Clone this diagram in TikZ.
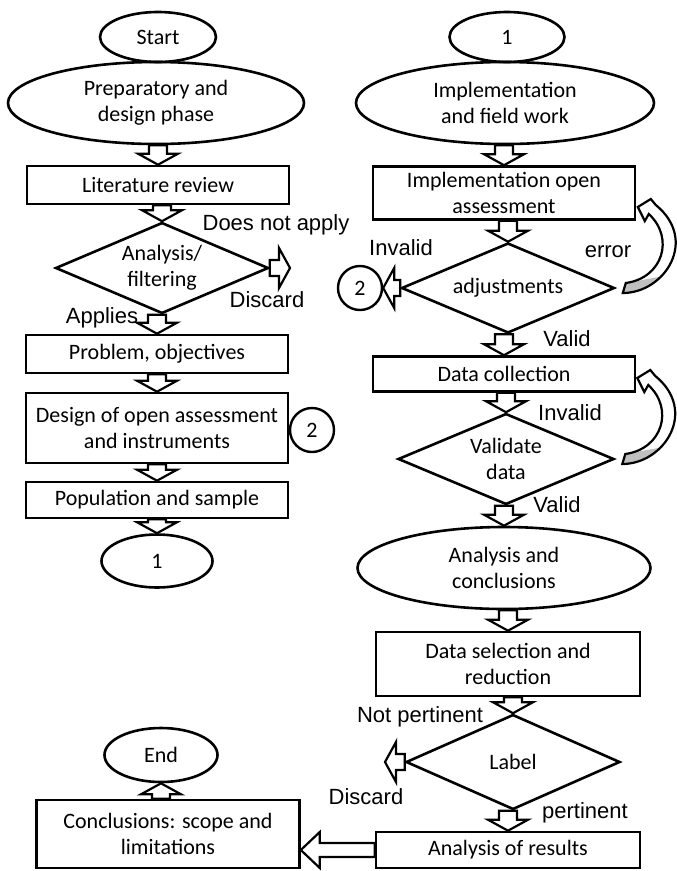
\documentclass[tikz,border=0pt]{standalone}
\usepackage{fontspec}
\setmainfont{Carlito}
\newfontfamily\arialf{Liberation Sans}
\usetikzlibrary{shapes.geometric,calc}
\tikzset{
  txt/.style={font=\fontsize{22}{26}\selectfont},
  box/.style={txt, draw, line width=2.6pt, rectangle, minimum width=262pt, inner sep=0pt, align=center},
  oval/.style={txt, draw, line width=2.6pt, ellipse, inner sep=0pt, align=center},
  dia/.style={txt, draw, line width=2.6pt, diamond, aspect=2.35, inner sep=0pt, align=center},
  conn/.style={txt, draw, line width=2.4pt, circle, minimum size=44pt, inner sep=0pt},
  lbl/.style={font=\arialf\fontsize{22}{26}\selectfont, inner sep=0pt},
  barr/.style={line width=2.2pt, line join=miter},
  carr/.style={line width=2.2pt, line join=miter},
}
% block arrows between two named points
\newcommand\darr[2]{\draw[barr] let \p1=(#1), \p2=(#2) in
  (\x2-9pt,\y1) -- (\x2-9pt,\y2+11pt) -- (\x2-20pt,\y2+11pt) -- (\x2,\y2)
  -- (\x2+20pt,\y2+11pt) -- (\x2+9pt,\y2+11pt) -- (\x2+9pt,\y1) -- cycle;}
\newcommand\uarr[2]{\draw[barr] let \p1=(#1), \p2=(#2) in
  (\x2-9pt,\y1) -- (\x2-9pt,\y2-11pt) -- (\x2-20pt,\y2-11pt) -- (\x2,\y2)
  -- (\x2+20pt,\y2-11pt) -- (\x2+9pt,\y2-11pt) -- (\x2+9pt,\y1) -- cycle;}
\newcommand\rarr[2]{\draw[barr] let \p1=(#1), \p2=(#2) in
  (\x1,\y1-8pt) -- (\x2-11pt,\y1-8pt) -- (\x2-11pt,\y1-20pt) -- (\x2,\y1)
  -- (\x2-11pt,\y1+20pt) -- (\x2-11pt,\y1+8pt) -- (\x1,\y1+8pt) -- cycle;}
\newcommand\larr[2]{\draw[barr] let \p1=(#1), \p2=(#2) in
  (\x1,\y1-8pt) -- (\x2+11pt,\y1-8pt) -- (\x2+11pt,\y1-20pt) -- (\x2,\y1)
  -- (\x2+11pt,\y1+20pt) -- (\x2+11pt,\y1+8pt) -- (\x1,\y1+8pt) -- cycle;}
\newcommand\bigLarr[2]{\draw[barr] let \p1=(#1), \p2=(#2) in
  (\x1,\y1-7pt) -- (\x2+19pt,\y1-7pt) -- (\x2+19pt,\y1-18pt) -- (\x2,\y1)
  -- (\x2+19pt,\y1+18pt) -- (\x2+19pt,\y1+7pt) -- (\x1,\y1+7pt) -- cycle;}
\newcommand\carrpath{(0,5) .. controls (42,5) and (76,-48) .. (33,-83)
  -- (28,-89) -- (15,-81) -- (22,-67) -- (26,-74)
  .. controls (52,-50) and (40,-10) .. (3,-5) -- cycle}
\newcommand\curvearr[1]{%
  \begin{scope}[shift={(#1)}, xshift=7pt]
    \begin{scope}
      \clip \carrpath;
      \fill[gray!50] (-4,9) -- (50,9) -- (38,-11.4) -- (3,-5) -- cycle;
    \end{scope}
    \draw[carr] \carrpath;
  \end{scope}}
\begin{document}
\begin{tikzpicture}[x=1pt,y=-1pt]
\useasboundingbox (0,0) rectangle (677,871);
% ---------- left column
\node[oval, minimum width=116pt, minimum height=50pt] (start) at (158,37) {Start};
\node[oval, minimum width=296pt, minimum height=82pt] (prep) at (156,103) {Preparatory and\\design phase};
\node[box, minimum height=38pt] (lit) at (158,185) {Literature review};
\node[dia, minimum width=213pt, minimum height=91pt] (d1) at (162,268) {Analysis/\\filtering};
\coordinate (dis1) at (290,268);
\node[lbl] (l1) at (276,225) {Does not apply};
\node[lbl] (l2) at (267,300) {Discard};
\node[lbl] (l3) at (102,318) {Applies};
\node[box, minimum height=38pt] (prob) at (157,354) {Problem, objectives};
\node[box, minimum height=70pt] (des) at (157,428) {Design of open assessment\\and instruments};
\node[conn] (c2a) at (312,430) {2};
\node[box, minimum height=36pt] (pop) at (157,500) {Population and sample};
\node[oval, minimum width=111pt, minimum height=53pt] (one1) at (157,561) {1};
\darr{prep.south}{lit.north}
\darr{lit.south}{d1.north}
\rarr{d1.east}{dis1}
\darr{d1.south}{prob.north}
\darr{prob.south}{des.north}
\darr{des.south}{pop.north}
\darr{pop.south}{one1.north}
% ---------- right column
\node[oval, minimum width=115pt, minimum height=50pt] (one2) at (507,37) {1};
\node[oval, minimum width=298pt, minimum height=82pt] (impl) at (505,103) {Implementation\\and field work};
\node[box, minimum height=53pt] (ibox) at (504,193) {Implementation open\\assessment};
\node[dia, minimum width=213pt, minimum height=90pt] (d2) at (508,288) {adjustments};
\node[conn] (c2b) at (360,288) {2};
\node[lbl] (l4) at (401,248) {Invalid};
\node[lbl] (l5) at (608,252) {error};
\node[lbl] (l6) at (567,339) {Valid};
\node[box, minimum height=35pt] (dc) at (504,374) {Data collection};
\node[lbl] (l7) at (570,413) {Invalid};
\node[dia, minimum width=216pt, minimum height=91pt] (d3) at (506,459) {Validate\\data};
\node[lbl] (l8) at (557,505) {Valid};
\node[oval, minimum width=293pt, minimum height=82pt] (anc) at (504,568) {Analysis and\\conclusions};
\node[box, minimum width=264pt, minimum height=64pt] (dsel) at (508,664) {Data selection and\\reduction};
\node[lbl] (l9) at (420,717) {Not pertinent};
\node[dia, minimum width=214pt, minimum height=95pt] (d4) at (513,762) {Label};
\coordinate (dis2) at (385,762);
\node[lbl] (l10) at (366,797) {Discard};
\node[lbl] (l11) at (585,813) {pertinent};
\node[box, minimum width=264pt, minimum height=36pt] (res) at (508,850) {Analysis of results};
\node[box, minimum width=263pt, minimum height=68pt] (concl) at (168,834) {Conclusions: scope and\\limitations};
\node[oval, minimum width=113pt, minimum height=54pt] (endn) at (161,755) {End};
\darr{impl.south}{ibox.north}
\darr{ibox.south}{d2.north}
\larr{d2.west}{c2b.east}
\darr{d2.south}{dc.north}
\darr{dc.south}{d3.north}
\darr{d3.south}{anc.north}
\darr{anc.south}{dsel.north}
\darr{dsel.south}{d4.north}
\larr{d4.west}{dis2}
\darr{d4.south}{res.north}
\bigLarr{res.west}{concl.east}
\uarr{concl.north}{endn.south}
\curvearr{d2.east}
\curvearr{d3.east}
\end{tikzpicture}
\end{document}
